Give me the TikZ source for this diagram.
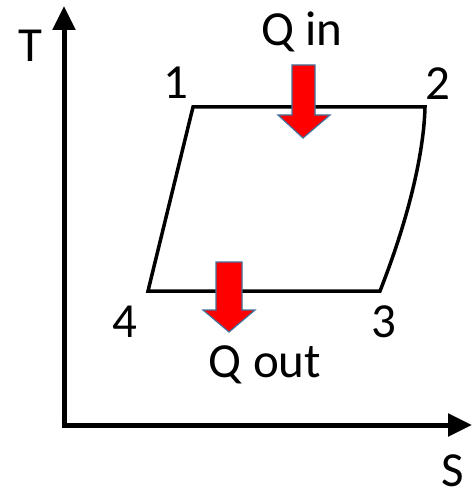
\documentclass[tikz,border=0pt]{standalone}
\usepackage{fontspec}
\setmainfont{Carlito}
\usetikzlibrary{arrows.meta}
\definecolor{qred}{RGB}{255,0,0}
\definecolor{qedge}{RGB}{65,113,156}
\tikzset{
  axis/.style={line width=5pt,-{Triangle[width=22pt,length=24pt]}},
  cycleline/.style={line width=3.5pt,line join=miter},
  qarrow/.style={fill=qred,draw=qedge,line width=1.2pt,line join=miter},
  lbl/.style={inner sep=0pt,anchor=base,font=\fontsize{49}{58}\selectfont}
}
\begin{document}
\begin{tikzpicture}[x=1pt,y=-1pt]
\useasboundingbox (0,0) rectangle (472,494);
% axes
\coordinate (O) at (64,425);
\coordinate (Ytip) at (64,6);
\coordinate (Xtip) at (472,425);
\draw[axis] ([yshift=2.5pt]O) -- (Ytip);
\draw[axis] ([xshift=-2.5pt]O) -- (Xtip);
% cycle
\coordinate (p1) at (193,107);
\coordinate (p2) at (425,107);
\coordinate (p3) at (380,291);
\coordinate (p4) at (148,291);
\draw[cycleline] (p1) -- (p2) .. controls (424,150) and (410,215) .. (p3) -- (p4) -- cycle;
% heat arrows
\draw[qarrow] (292,65) -- (315,65) -- (315,115) -- (330,115) -- (303,138) -- (278,115) -- (292,115) -- cycle;
\draw[qarrow] (216,262) -- (242,262) -- (242,310) -- (255,310) -- (229,332) -- (203,310) -- (216,310) -- cycle;
% labels
\node[lbl] (T) at (30,62) {T};
\node[lbl] (S) at (453,486) {S};
\node[lbl] (Qin) at (302,46) {Q in};
\node[lbl] (Qout) at (265,377) {Q out};
\node[lbl] (n1) at (176,99) {1};
\node[lbl] (n2) at (438,100) {2};
\node[lbl] (n3) at (384,337) {3};
\node[lbl] (n4) at (125,337) {4};
\end{tikzpicture}
\end{document}
